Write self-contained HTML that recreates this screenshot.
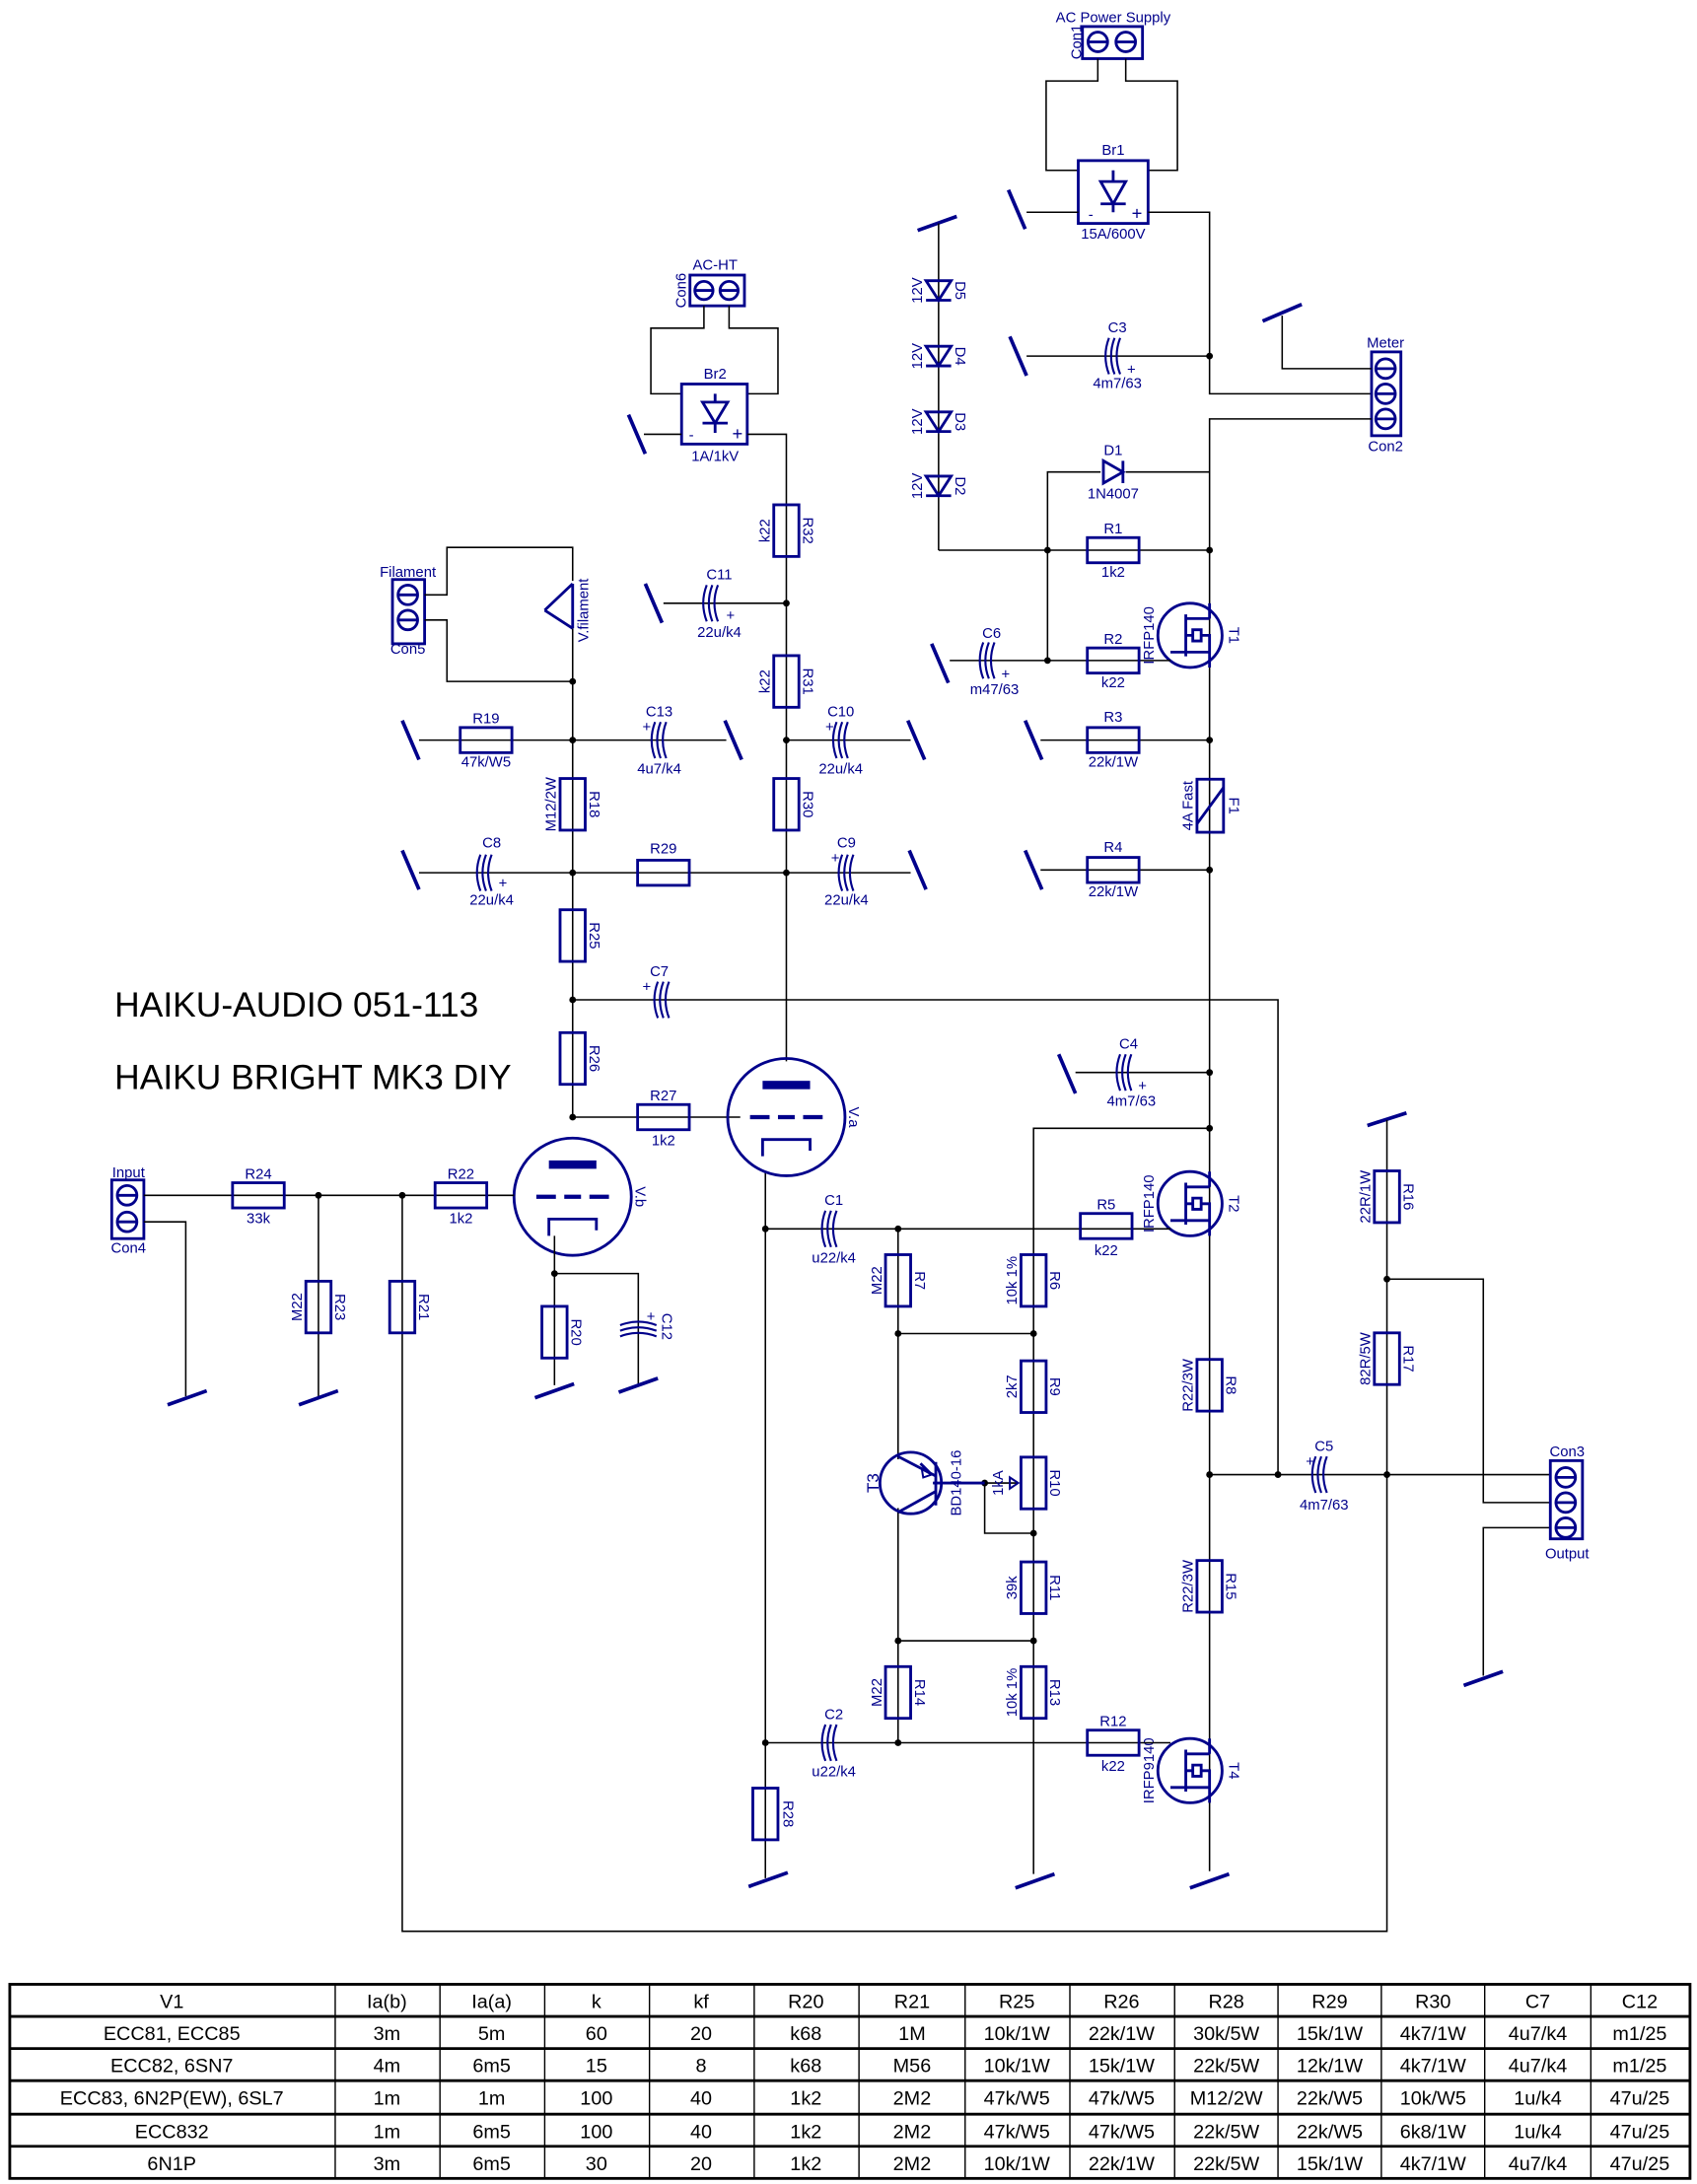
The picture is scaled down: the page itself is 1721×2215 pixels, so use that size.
<!DOCTYPE html>
<html><head><meta charset="utf-8"><style>
html,body{margin:0;padding:0;background:#fff}
svg{display:block}
.w{stroke:#000;stroke-width:1.1;fill:none}
.b{stroke:#00008b;stroke-width:2;fill:none}
.g{stroke:#00008b;stroke-width:2.6;fill:none}
text{font-family:"Liberation Sans",sans-serif;fill:#00008b;font-size:10.5px;text-anchor:middle}
.tb text{fill:#000;font-size:14px}
</style></head><body>
<svg width="1721" height="2215" viewBox="0 0 1215 1564" preserveAspectRatio="none" xmlns="http://www.w3.org/2000/svg">
<defs>
<rect id="rv" x="-9" y="-18.5" width="18" height="37" class="b" fill="#fff"/>
<rect id="rh" x="-18.5" y="-9" width="37" height="18" class="b" fill="#fff"/>
<g id="ch"><path class="b" style="stroke-width:1.5" d="M-6,-13 Q-11,0 -6,13 M-2,-13 Q-7,0 -2,13 M2,-13 Q-3,0 2,13"/></g>
<g id="cv"><path class="b" style="stroke-width:1.5" d="M-13,-6 Q0,-11 13,-6 M-13,-2 Q0,-7 13,-2 M-13,2 Q0,-3 13,2"/></g>
<line id="gs" x1="-14" y1="5" x2="14" y2="-5" class="g"/>
<line id="gv" x1="-6" y1="-14" x2="6" y2="14" class="g"/>
<circle id="d" r="2.4" fill="#000"/>
<g id="mos"><circle r="23" class="b"/><path class="b" d="M-3,-15 V15 M-3,-12 H14 M-3,12 H14 M-3,0 H2 M2,-4 H8 V4 H2Z M8,0 H14 V12 M14,-12 V-23 M14,12 V23 M-14,12 H-3"/></g>
<g id="tube"><circle r="42" class="b"/><rect x="-17" y="-26" width="34" height="6" fill="#00008b"/><path class="b" style="stroke-width:3" d="M-26,0 H-12 M-6,0 H6 M12,0 H26"/><path class="b" d="M-17,28 V16 H17 V24"/></g>
<g id="dio"><path class="b" d="M-9,-7 H9 L0,7Z M-9,7 H9"/></g>
</defs>

<!-- ===== AC power supply / Br1 ===== -->
<text x="797" y="16">AC Power Supply</text>
<text transform="rotate(-90 770 30)" x="770" y="34">Con1</text>
<rect x="775" y="19" width="43" height="23" class="b"/>
<circle cx="786" cy="30" r="7" class="b"/><line x1="779" y1="30" x2="793" y2="30" class="b"/>
<circle cx="806" cy="30" r="7" class="b"/><line x1="799" y1="30" x2="813" y2="30" class="b"/>
<path class="w" d="M786,42 V58 H749 V122 H772 M806,42 V58 H843 V122 H822"/>
<text x="797" y="111">Br1</text>
<rect x="772" y="115" width="50" height="45" class="b"/>
<path class="b" d="M788,130 H806 L797,146Z M788,146 H806 M797,122 V130 M797,146 V152"/>
<text x="781" y="157">-</text><text x="814" y="157" style="font-size:13px">+</text>
<text x="797" y="171">15A/600V</text>
<path class="w" d="M822,152 H866 V282 H982 M735,152 H772"/>
<use href="#gv" x="728" y="150"/>
<!-- meter -->
<text x="992" y="249">Meter</text><text x="992" y="323">Con2</text>
<rect x="982" y="252" width="21" height="60" class="b"/>
<circle cx="992" cy="264" r="7" class="b"/><line x1="985" y1="264" x2="999" y2="264" class="b"/>
<circle cx="992" cy="282" r="7" class="b"/><line x1="985" y1="282" x2="999" y2="282" class="b"/>
<circle cx="992" cy="300" r="7" class="b"/><line x1="985" y1="300" x2="999" y2="300" class="b"/>
<path class="w" d="M918,226 V264 H982 M982,300 H866 V1340"/>
<line x1="904" y1="230" x2="932" y2="218" class="g"/>
<!-- C3 -->
<path class="w" d="M735,255 H866"/><use href="#d" x="866" y="255"/>
<use href="#ch" x="800" y="255"/><text x="800" y="238">C3</text><text x="810" y="268">+</text><text x="800" y="278">4m7/63</text>
<use href="#gv" x="729" y="255"/>
<!-- diodes -->
<line x1="657" y1="165" x2="685" y2="155" class="g"/>
<path class="w" d="M672,160 V394"/>
<use href="#dio" x="672" y="208"/><use href="#dio" x="672" y="255"/><use href="#dio" x="672" y="302"/><use href="#dio" x="672" y="348"/>
<text transform="rotate(-90 656 208)" x="656" y="212">12V</text><text transform="rotate(90 688 208)" x="688" y="212">D5</text>
<text transform="rotate(-90 656 255)" x="656" y="259">12V</text><text transform="rotate(90 688 255)" x="688" y="259">D4</text>
<text transform="rotate(-90 656 302)" x="656" y="306">12V</text><text transform="rotate(90 688 302)" x="688" y="306">D3</text>
<text transform="rotate(-90 656 348)" x="656" y="352">12V</text><text transform="rotate(90 688 348)" x="688" y="352">D2</text>
<!-- D1 R1 -->
<path class="w" d="M750,473 V338 H788 M806,338 H866"/>
<path class="b" d="M790,330 V346 L804,338Z M804,330 V346"/>
<text x="797" y="326">D1</text><text x="797" y="357">1N4007</text>
<path class="w" d="M672,394 H866"/><use href="#d" x="750" y="394"/><use href="#d" x="866" y="394"/>
<use href="#rh" x="797" y="394"/><text x="797" y="382">R1</text><text x="797" y="413">1k2</text>
<!-- T1 -->
<use href="#mos" x="852" y="455"/>
<text transform="rotate(-90 822 455)" x="822" y="459">IRFP140</text><text transform="rotate(90 884 455)" x="884" y="459">T1</text>
<path class="w" d="M680,473 H838"/><use href="#d" x="750" y="473"/>
<use href="#ch" x="710" y="473"/><text x="710" y="457">C6</text><text x="720" y="486">+</text><text x="712" y="497">m47/63</text>
<use href="#gv" x="673" y="475"/>
<use href="#rh" x="797" y="473"/><text x="797" y="461">R2</text><text x="797" y="492">k22</text>
<!-- R3 F1 R4 -->
<path class="w" d="M745,530 H866 M745,623 H866"/><use href="#d" x="866" y="530"/><use href="#d" x="866" y="623"/>
<use href="#gv" x="740" y="530"/><use href="#gv" x="740" y="623"/>
<use href="#rh" x="797" y="530"/><text x="797" y="517">R3</text><text x="797" y="549">22k/1W</text>
<use href="#rh" x="797" y="623"/><text x="797" y="610">R4</text><text x="797" y="642">22k/1W</text>
<rect x="857" y="558" width="19" height="38" class="b" fill="#fff"/><line x1="857" y1="590" x2="876" y2="564" class="b"/>
<text transform="rotate(-90 850 577)" x="850" y="581">4A Fast</text><text transform="rotate(90 884 577)" x="884" y="581">F1</text>
<!-- C4 -->
<path class="w" d="M770,768 H866"/><use href="#d" x="866" y="768"/>
<use href="#ch" x="808" y="768"/><text x="808" y="751">C4</text><text x="818" y="781">+</text><text x="810" y="792">4m7/63</text>
<use href="#gv" x="764" y="769"/>
<!-- T2 -->
<path class="w" d="M740,1342 V808 H866"/><use href="#d" x="866" y="808"/>
<use href="#mos" x="852" y="862"/>
<text transform="rotate(-90 822 862)" x="822" y="866">IRFP140</text><text transform="rotate(90 884 862)" x="884" y="866">T2</text>
<path class="w" d="M548,880 H838"/><use href="#d" x="548" y="880"/>
<use href="#rh" x="792" y="878"/><text x="792" y="866">R5</text><text x="792" y="899">k22</text>
<use href="#rv" x="866" y="992"/><text transform="rotate(-90 850 992)" x="850" y="996">R22/3W</text><text transform="rotate(90 882 992)" x="882" y="996">R8</text>
<use href="#rv" x="866" y="1136"/><text transform="rotate(-90 850 1136)" x="850" y="1140">R22/3W</text><text transform="rotate(90 882 1136)" x="882" y="1140">R15</text>
<use href="#d" x="866" y="1056"/>
<!-- T4 -->
<use href="#mos" x="852" y="1268"/>
<text transform="rotate(-90 822 1268)" x="822" y="1272">IRFP9140</text><text transform="rotate(90 884 1268)" x="884" y="1272">T4</text>
<path class="w" d="M548,1248 H838"/><use href="#d" x="548" y="1248"/><use href="#d" x="643" y="1248"/>
<use href="#rh" x="797" y="1248"/><text x="797" y="1236">R12</text><text x="797" y="1268">k22</text>
<line x1="852" y1="1352" x2="880" y2="1342" class="g"/>
<line x1="727" y1="1352" x2="755" y2="1342" class="g"/>
<!-- output / C5 -->
<path class="w" d="M866,1056 H1110 M915,1056 V716 H410"/><use href="#d" x="915" y="1056"/><use href="#d" x="993" y="1056"/>
<use href="#ch" x="948" y="1056"/><text x="948" y="1039">C5</text><text x="938" y="1050">+</text><text x="948" y="1081">4m7/63</text>
<line x1="979" y1="806" x2="1007" y2="797" class="g"/>
<path class="w" d="M993,802 V1383 H288 V856 M993,916 H1062 V1076 H1110 M1110,1094 H1062 V1200"/><use href="#d" x="993" y="916"/>
<use href="#rv" x="993" y="857"/><text transform="rotate(-90 977 857)" x="977" y="861">22R/1W</text><text transform="rotate(90 1009 857)" x="1009" y="861">R16</text>
<use href="#rv" x="993" y="973"/><text transform="rotate(-90 977 973)" x="977" y="977">82R/5W</text><text transform="rotate(90 1009 973)" x="1009" y="977">R17</text>
<line x1="1048" y1="1207" x2="1076" y2="1197" class="g"/>
<text x="1122" y="1043">Con3</text><text x="1122" y="1116">Output</text>
<rect x="1110" y="1046" width="23" height="56" class="b"/>
<circle cx="1121" cy="1058" r="7" class="b"/><line x1="1114" y1="1058" x2="1128" y2="1058" class="b"/>
<circle cx="1121" cy="1076" r="7" class="b"/><line x1="1114" y1="1076" x2="1128" y2="1076" class="b"/>
<circle cx="1121" cy="1094" r="7" class="b"/><line x1="1114" y1="1094" x2="1128" y2="1094" class="b"/>
<!-- bias network -->
<use href="#ch" x="597" y="880"/><text x="597" y="863">C1</text><text x="597" y="904">u22/k4</text>
<use href="#ch" x="597" y="1248"/><text x="597" y="1231">C2</text><text x="597" y="1272">u22/k4</text>
<path class="w" d="M643,880 V1045 M643,1080 V1248 M643,955 H740 M643,1175 H740 M668,1062 H728 M705,1062 V1098 H740"/>
<use href="#d" x="643" y="880"/><use href="#d" x="643" y="955"/><use href="#d" x="740" y="955"/><use href="#d" x="643" y="1175"/><use href="#d" x="740" y="1175"/><use href="#d" x="705" y="1062"/><use href="#d" x="740" y="1098"/>
<use href="#rv" x="643" y="917"/><text transform="rotate(-90 627 917)" x="627" y="921">M22</text><text transform="rotate(90 659 917)" x="659" y="921">R7</text>
<use href="#rv" x="643" y="1212"/><text transform="rotate(-90 627 1212)" x="627" y="1216">M22</text><text transform="rotate(90 659 1212)" x="659" y="1216">R14</text>
<use href="#rv" x="740" y="917"/><text transform="rotate(-90 724 917)" x="724" y="921">10k 1%</text><text transform="rotate(90 756 917)" x="756" y="921">R6</text>
<use href="#rv" x="740" y="993"/><text transform="rotate(-90 724 993)" x="724" y="997">2k7</text><text transform="rotate(90 756 993)" x="756" y="997">R9</text>
<use href="#rv" x="740" y="1062"/><text transform="rotate(-90 714 1062)" x="714" y="1066">1kA</text><text transform="rotate(90 756 1062)" x="756" y="1066">R10</text>
<path class="b" style="stroke-width:1.4" d="M723,1058 L729,1062 L723,1066Z"/>
<use href="#rv" x="740" y="1137"/><text transform="rotate(-90 724 1137)" x="724" y="1141">39k</text><text transform="rotate(90 756 1137)" x="756" y="1141">R11</text>
<use href="#rv" x="740" y="1212"/><text transform="rotate(-90 724 1212)" x="724" y="1216">10k 1%</text><text transform="rotate(90 756 1212)" x="756" y="1216">R13</text>
<circle cx="652" cy="1062" r="22" class="b"/>
<path class="b" d="M670,1047 V1078 M670,1057 L643,1043 M670,1068 L643,1083 M668,1062 H705 M659,1048 L666,1055 L661,1050"/>
<path class="b" style="stroke-width:1.4" d="M660,1052 L667,1056 L661,1058Z"/>
<text transform="rotate(-90 625 1062)" x="625" y="1066" style="font-size:12px">T3</text><text transform="rotate(-90 684 1062)" x="684" y="1066">BD140-16</text>
<!-- R28 -->
<path class="w" d="M548,840 V1345"/>
<use href="#rv" x="548" y="1299"/><text transform="rotate(90 565 1299)" x="565" y="1303">R28</text>
<line x1="536" y1="1351" x2="564" y2="1341" class="g"/>
<!-- HT supply -->
<text x="512" y="193">AC-HT</text>
<text transform="rotate(-90 487 208)" x="487" y="212">Con6</text>
<rect x="494" y="197" width="39" height="22" class="b"/>
<circle cx="504" cy="208" r="6.5" class="b"/><line x1="498" y1="208" x2="510" y2="208" class="b"/>
<circle cx="522" cy="208" r="6.5" class="b"/><line x1="516" y1="208" x2="528" y2="208" class="b"/>
<path class="w" d="M504,219 V235 H466 V282 H488 M522,219 V235 H557 V282 H535"/>
<text x="512" y="271">Br2</text>
<rect x="488" y="275" width="47" height="43" class="b"/>
<path class="b" d="M503,288 H521 L512,303Z M503,303 H521 M512,282 V288 M512,303 V310"/>
<text x="495" y="315">-</text><text x="528" y="315" style="font-size:13px">+</text>
<text x="512" y="330">1A/1kV</text>
<path class="w" d="M535,311 H563 V760 M461,311 H488"/>
<use href="#gv" x="456" y="311"/>
<use href="#rv" x="563" y="380"/><text transform="rotate(-90 547 380)" x="547" y="384">k22</text><text transform="rotate(90 579 380)" x="579" y="384">R32</text>
<path class="w" d="M475,432 H563"/><use href="#d" x="563" y="432"/>
<use href="#ch" x="512" y="432"/><text x="515" y="415">C11</text><text x="523" y="444">+</text><text x="515" y="456">22u/k4</text>
<use href="#gv" x="468" y="432"/>
<use href="#rv" x="563" y="488"/><text transform="rotate(-90 547 488)" x="547" y="492">k22</text><text transform="rotate(90 579 488)" x="579" y="492">R31</text>
<path class="w" d="M563,530 H652"/><use href="#d" x="563" y="530"/>
<use href="#ch" x="605" y="530"/><text x="602" y="513">C10</text><text x="594" y="524">+</text><text x="602" y="554">22u/k4</text>
<use href="#gv" x="656" y="530"/>
<use href="#rv" x="563" y="576"/><text transform="rotate(90 579 576)" x="579" y="580">R30</text>
<path class="w" d="M300,625 H652"/><use href="#d" x="563" y="625"/><use href="#d" x="410" y="625"/>
<use href="#rh" x="475" y="625"/><text x="475" y="611">R29</text>
<use href="#ch" x="609" y="625"/><text x="606" y="607">C9</text><text x="598" y="618">+</text><text x="606" y="648">22u/k4</text>
<use href="#gv" x="657" y="623"/>
<use href="#ch" x="350" y="625"/><text x="352" y="607">C8</text><text x="360" y="636">+</text><text x="352" y="648">22u/k4</text>
<use href="#gv" x="294" y="623"/>
<!-- filament -->
<text x="292" y="413">Filament</text><text x="292" y="468">Con5</text>
<rect x="281" y="415" width="23" height="46" class="b"/>
<circle cx="292" cy="426" r="7" class="b"/><line x1="285" y1="426" x2="299" y2="426" class="b"/>
<circle cx="292" cy="444" r="7" class="b"/><line x1="285" y1="444" x2="299" y2="444" class="b"/>
<path class="w" d="M304,426 H320 V392 H410 V416 M304,444 H320 V488 H410 M410,450 V800"/>
<path class="b" d="M390,437 L410,418 M410,418 V450 M390,437 L410,450"/>
<text transform="rotate(-90 417 437)" x="417" y="441">V.filament</text>
<use href="#d" x="410" y="488"/>
<path class="w" d="M300,530 H520"/><use href="#d" x="410" y="530"/>
<use href="#gv" x="294" y="530"/>
<use href="#rh" x="348" y="530"/><text x="348" y="518">R19</text><text x="348" y="549">47k/W5</text>
<use href="#ch" x="475" y="530"/><text x="472" y="513">C13</text><text x="463" y="524">+</text><text x="472" y="554">4u7/k4</text>
<use href="#gv" x="525" y="530"/>
<use href="#rv" x="410" y="576"/><text transform="rotate(-90 394 576)" x="394" y="580">M12/2W</text><text transform="rotate(90 426 576)" x="426" y="580">R18</text>
<use href="#rv" x="410" y="670"/><text transform="rotate(90 426 670)" x="426" y="674">R25</text>
<use href="#d" x="410" y="716"/>
<use href="#ch" x="477" y="716"/><text x="472" y="699">C7</text><text x="463" y="710">+</text>
<use href="#rv" x="410" y="758"/><text transform="rotate(90 426 758)" x="426" y="762">R26</text>
<path class="w" d="M410,800 H530"/><use href="#d" x="410" y="800"/>
<use href="#rh" x="475" y="800"/><text x="475" y="788">R27</text><text x="475" y="820">1k2</text>
<!-- tubes -->
<use href="#tube" x="563" y="800"/><text transform="rotate(90 612 800)" x="612" y="804">V.a</text>
<use href="#tube" x="410" y="857"/><text transform="rotate(90 459 857)" x="459" y="861">V.b</text>
<path class="w" d="M397,885 V992 M397,912 H457 V992"/><use href="#d" x="397" y="912"/>
<use href="#rv" x="397" y="954"/><text transform="rotate(90 413 954)" x="413" y="958">R20</text>
<use href="#cv" x="457" y="955"/><text transform="rotate(90 478 950)" x="478" y="954">C12</text><text x="466" y="946">+</text>
<use href="#gs" x="397" y="996"/><use href="#gs" x="457" y="992"/>
<!-- input -->
<text x="92" y="843">Input</text><text x="92" y="897">Con4</text>
<rect x="80" y="845" width="23" height="42" class="b"/>
<circle cx="91" cy="856" r="7" class="b"/><line x1="84" y1="856" x2="98" y2="856" class="b"/>
<circle cx="91" cy="875" r="7" class="b"/><line x1="84" y1="875" x2="98" y2="875" class="b"/>
<path class="w" d="M103,856 H368 M103,875 H133 V1000 M228,856 V1000"/>
<use href="#d" x="228" y="856"/><use href="#d" x="288" y="856"/>
<use href="#rh" x="185" y="856"/><text x="185" y="844">R24</text><text x="185" y="876">33k</text>
<use href="#rh" x="330" y="856"/><text x="330" y="844">R22</text><text x="330" y="876">1k2</text>
<use href="#rv" x="228" y="936"/><text transform="rotate(-90 212 936)" x="212" y="940">M22</text><text transform="rotate(90 244 936)" x="244" y="940">R23</text>
<use href="#rv" x="288" y="936"/><text transform="rotate(90 304 936)" x="304" y="940">R21</text>
<use href="#gs" x="134" y="1001"/><use href="#gs" x="228" y="1001"/>
<!-- title -->
<text x="82" y="728" style="fill:#000;font-size:25px;text-anchor:start">HAIKU-AUDIO  051-113</text>
<text x="82" y="780" style="fill:#000;font-size:25px;text-anchor:start">HAIKU  BRIGHT  MK3  DIY</text>
<!-- table -->
<g class="tb">
<rect x="7" y="1421" width="1203" height="139" fill="none" stroke="#000" stroke-width="2"/>
<path stroke="#000" stroke-width="2" d="M7,1444 H1210 M7,1467 H1210 M7,1490 H1210 M7,1514 H1210 M7,1537 H1210"/>
<path stroke="#000" stroke-width="1" d="M240,1421V1560 M315,1421V1560 M390,1421V1560 M465,1421V1560 M540,1421V1560 M615,1421V1560 M691,1421V1560 M766,1421V1560 M841,1421V1560 M915,1421V1560 M989,1421V1560 M1063,1421V1560 M1139,1421V1560"/>
<text x="123" y="1438">V1</text><text x="277" y="1438">Ia(b)</text><text x="352" y="1438">Ia(a)</text><text x="427" y="1438">k</text><text x="502" y="1438">kf</text><text x="577" y="1438">R20</text><text x="653" y="1438">R21</text><text x="728" y="1438">R25</text><text x="803" y="1438">R26</text><text x="878" y="1438">R28</text><text x="952" y="1438">R29</text><text x="1026" y="1438">R30</text><text x="1101" y="1438">C7</text><text x="1174" y="1438">C12</text>
<text x="123" y="1461">ECC81, ECC85</text><text x="277" y="1461">3m</text><text x="352" y="1461">5m</text><text x="427" y="1461">60</text><text x="502" y="1461">20</text><text x="577" y="1461">k68</text><text x="653" y="1461">1M</text><text x="728" y="1461">10k/1W</text><text x="803" y="1461">22k/1W</text><text x="878" y="1461">30k/5W</text><text x="952" y="1461">15k/1W</text><text x="1026" y="1461">4k7/1W</text><text x="1101" y="1461">4u7/k4</text><text x="1174" y="1461">m1/25</text>
<text x="123" y="1484">ECC82, 6SN7</text><text x="277" y="1484">4m</text><text x="352" y="1484">6m5</text><text x="427" y="1484">15</text><text x="502" y="1484">8</text><text x="577" y="1484">k68</text><text x="653" y="1484">M56</text><text x="728" y="1484">10k/1W</text><text x="803" y="1484">15k/1W</text><text x="878" y="1484">22k/5W</text><text x="952" y="1484">12k/1W</text><text x="1026" y="1484">4k7/1W</text><text x="1101" y="1484">4u7/k4</text><text x="1174" y="1484">m1/25</text>
<text x="123" y="1507">ECC83, 6N2P(EW), 6SL7</text><text x="277" y="1507">1m</text><text x="352" y="1507">1m</text><text x="427" y="1507">100</text><text x="502" y="1507">40</text><text x="577" y="1507">1k2</text><text x="653" y="1507">2M2</text><text x="728" y="1507">47k/W5</text><text x="803" y="1507">47k/W5</text><text x="878" y="1507">M12/2W</text><text x="952" y="1507">22k/W5</text><text x="1026" y="1507">10k/W5</text><text x="1101" y="1507">1u/k4</text><text x="1174" y="1507">47u/25</text>
<text x="123" y="1531">ECC832</text><text x="277" y="1531">1m</text><text x="352" y="1531">6m5</text><text x="427" y="1531">100</text><text x="502" y="1531">40</text><text x="577" y="1531">1k2</text><text x="653" y="1531">2M2</text><text x="728" y="1531">47k/W5</text><text x="803" y="1531">47k/W5</text><text x="878" y="1531">22k/5W</text><text x="952" y="1531">22k/W5</text><text x="1026" y="1531">6k8/1W</text><text x="1101" y="1531">1u/k4</text><text x="1174" y="1531">47u/25</text>
<text x="123" y="1554">6N1P</text><text x="277" y="1554">3m</text><text x="352" y="1554">6m5</text><text x="427" y="1554">30</text><text x="502" y="1554">20</text><text x="577" y="1554">1k2</text><text x="653" y="1554">2M2</text><text x="728" y="1554">10k/1W</text><text x="803" y="1554">22k/1W</text><text x="878" y="1554">22k/5W</text><text x="952" y="1554">15k/1W</text><text x="1026" y="1554">4k7/1W</text><text x="1101" y="1554">4u7/k4</text><text x="1174" y="1554">47u/25</text>
</g>
</svg>
</body></html>
